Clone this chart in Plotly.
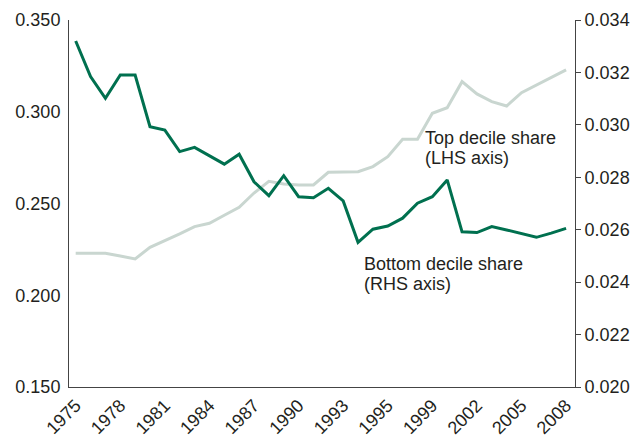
import plotly.graph_objects as go
from plotly.subplots import make_subplots

# x positions (one per observation) and tick labels shown every third point
obs = list(range(34))
tick_pos = [0, 3, 6, 9, 12, 15, 18, 21, 24, 27, 30, 33]
tick_labels = ['1975', '1978', '1981', '1984', '1987', '1990',
               '1993', '1995', '1999', '2002', '2005', '2008']

# top decile share (LHS axis)
top_share = [0.2229, 0.2229, 0.2229, 0.2214, 0.2198, 0.2261, 0.2297, 0.2334,
             0.2374, 0.2392, 0.2436, 0.2479, 0.2557, 0.2621, 0.2606, 0.2601,
             0.2601, 0.2670, 0.2672, 0.2673, 0.2701, 0.2755, 0.2850, 0.2850,
             0.2992, 0.3022, 0.3164, 0.3097, 0.3055, 0.3031, 0.3104, 0.3146,
             0.3187, 0.3228]

# bottom decile share (RHS axis)
bottom_share = [0.03320, 0.03184, 0.03101, 0.03190, 0.03190, 0.02993, 0.02980,
                0.02898, 0.02914, 0.02881, 0.02850, 0.02888, 0.02783, 0.02730,
                0.02806, 0.02726, 0.02722, 0.02758, 0.02710, 0.02552, 0.02602,
                0.02614, 0.02644, 0.02701, 0.02726, 0.02790, 0.02592, 0.02589,
                0.02612, 0.02599, 0.02585, 0.02571, 0.02587, 0.02605]

fig = make_subplots(specs=[[{"secondary_y": True}]])

fig.add_trace(go.Scatter(x=obs, y=top_share, mode='lines',
                         line=dict(color='#c9d6d0', width=3)),
              secondary_y=False)
fig.add_trace(go.Scatter(x=obs, y=bottom_share, mode='lines',
                         line=dict(color='#00704f', width=3)),
              secondary_y=True)

# series labels (one annotation per line to keep the tight line spacing)
labels = [
    (23.4, 0.2857, 'Top decile share'),
    (23.4, 0.2748, '(LHS axis)'),
    (19.25, 0.2170, 'Bottom decile share'),
    (19.25, 0.2062, '(RHS axis)'),
]
for lx, ly, txt in labels:
    fig.add_annotation(x=lx, y=ly, xref='x', yref='y', text=txt,
                       showarrow=False, xanchor='left', yanchor='middle')

fig.update_layout(
    width=631, height=436,
    margin=dict(l=69, r=56, t=20, b=49),
    plot_bgcolor='white', paper_bgcolor='white',
    showlegend=False,
    font=dict(family='Liberation Sans, Arial, sans-serif', size=18, color='#231f20'),
)

# make_subplots shrinks the x domain for the secondary axis; use full width
fig.update_xaxes(domain=[0, 1], range=[-0.45, 33.6], tickvals=tick_pos,
                 ticktext=tick_labels, tickangle=-45, showline=True,
                 linecolor='#444444', linewidth=1, ticks='', showgrid=False,
                 zeroline=False, automargin=False)
fig.update_yaxes(range=[0.150, 0.350], dtick=0.05, tickformat='.3f',
                 showline=True, linecolor='#444444', linewidth=1, ticks='',
                 ticklabelstandoff=4,
                 showgrid=False, zeroline=False, automargin=False,
                 secondary_y=False)
fig.update_yaxes(range=[0.020, 0.034], dtick=0.002, tickformat='.3f',
                 showline=True, linecolor='#444444', linewidth=1,
                 ticks='outside', ticklen=5, tickcolor='#444444',
                 showgrid=False, zeroline=False, automargin=False,
                 secondary_y=True)

# drop the default page margin so the figure sits at the window's top-left
fig.write_html("out.html", config={'responsive': False, 'displayModeBar': False},
               post_script="document.body.style.margin='0';")
